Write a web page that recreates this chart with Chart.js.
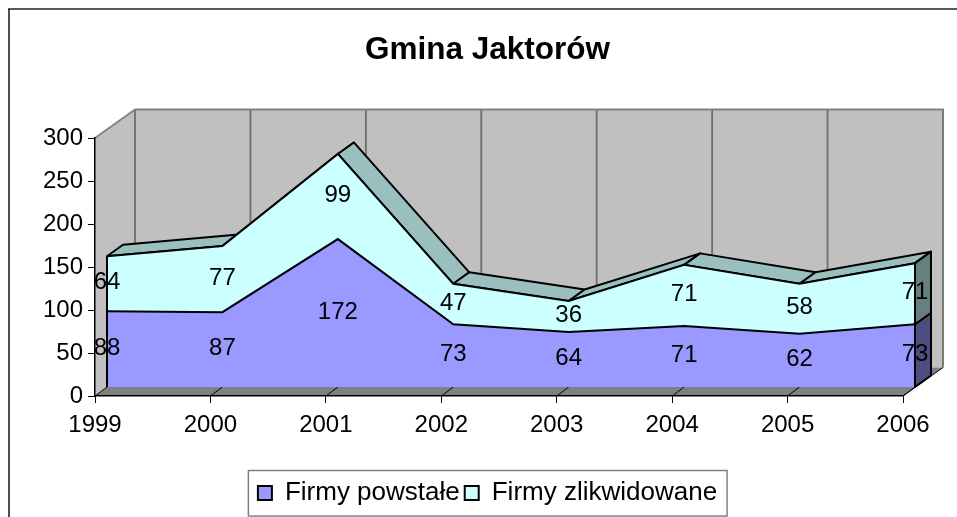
<!DOCTYPE html>
<html><head><meta charset="utf-8">
<style>html,body{margin:0;padding:0;background:#fff}canvas{display:block}</style>
<script src="https://cdn.jsdelivr.net/npm/chart.js@4"></script>
</head><body><canvas id="c" width="957" height="517"></canvas>
<script>
const categories = ['1999','2000','2001','2002','2003','2004','2005','2006'];
const firmyPowstale = [88,87,172,73,64,71,62,73];
const firmyZlikwidowane = [64,77,99,47,36,71,58,71];
const chartTitle = 'Gmina Jaktorów';
const seriesNames = ['Firmy powstałe','Firmy zlikwidowane'];
const FONT = '"Liberation Sans", Arial, sans-serif';

const WALL = {dx:40, dy:-28.5};
const FRONT = {dx:12, dy:-9};
const SLICE = {dx:16, dy:-11.5};

function poly(ctx, pts, fill, stroke, lw){
  ctx.beginPath();
  pts.forEach((p,i)=> i?ctx.lineTo(p[0],p[1]):ctx.moveTo(p[0],p[1]));
  ctx.closePath();
  if(fill){ctx.fillStyle=fill;ctx.fill();}
  if(stroke){ctx.strokeStyle=stroke;ctx.lineWidth=lw;ctx.lineJoin='round';ctx.stroke();}
}
function seg(ctx,a,b,color,lw){
  ctx.beginPath();ctx.moveTo(a[0],a[1]);ctx.lineTo(b[0],b[1]);
  ctx.strokeStyle=color;ctx.lineWidth=lw;ctx.stroke();
}
const scene = {
  id:'scene',
  afterLayout(chart){
    // widen the y axis drawing box so its labels are not clipped
    chart.scales.y.left = 20;
  },
  beforeDraw(chart){
    const {ctx,scales:{x,y}} = chart;
    const xs = categories.map((c,i)=>x.getPixelForValue(i));
    const L=xs[0], R=xs[xs.length-1], T=y.getPixelForValue(300), B=y.getPixelForValue(0);
    const d=WALL;
    ctx.save();
    seg(ctx,[9,9],[9,517],'#222',1.6);
    seg(ctx,[8,9],[957,9],'#222',1.6);
    poly(ctx,[[L+d.dx,T+d.dy],[R+d.dx,T+d.dy],[R+d.dx,B+d.dy],[L+d.dx,B+d.dy]],'#C0C0C0');
    poly(ctx,[[L,T],[L+d.dx,T+d.dy],[L+d.dx,B+d.dy],[L,B]],'#C0C0C0');
    poly(ctx,[[L,B],[L+d.dx,B+d.dy],[R+d.dx,B+d.dy],[R,B]],'#808080');
    xs.forEach(px=> seg(ctx,[px+d.dx,T+d.dy],[px+d.dx,B+d.dy],'#6E6E6E',1.8));
    seg(ctx,[L+d.dx,T+d.dy],[R+d.dx+1,T+d.dy],'#808080',2);
    seg(ctx,[L,T],[L+d.dx,T+d.dy],'#808080',1.8);
    xs.forEach(px=> seg(ctx,[px,B],[px+FRONT.dx,B+FRONT.dy],'#000',1));
    seg(ctx,[R,B],[R+d.dx,B+d.dy],'#000',1);
    ctx.restore();
  },
  beforeDatasetsDraw(chart){
    const {ctx,scales:{y}} = chart;
    const lower = chart.getDatasetMeta(0).data, upper = chart.getDatasetMeta(1).data;
    const base = y.getPixelForValue(0), s=SLICE;
    ctx.save();
    ctx.translate(FRONT.dx,FRONT.dy);
    for(let i=0;i<upper.length-1;i++){
      const a=upper[i],b=upper[i+1];
      poly(ctx,[[a.x,a.y],[a.x+s.dx,a.y+s.dy],[b.x+s.dx,b.y+s.dy],[b.x,b.y]],'#99BFBF','#000',2);
    }
    const n=upper.length-1, u=upper[n], l=lower[n];
    poly(ctx,[[l.x,l.y],[l.x+s.dx,l.y+s.dy],[l.x+s.dx,base+s.dy],[l.x,base]],'#4D4D80','#000',2);
    poly(ctx,[[u.x,u.y],[u.x+s.dx,u.y+s.dy],[u.x+s.dx,l.y+s.dy],[l.x,l.y]],'#668080','#000',2);
  },
  afterDatasetsDraw(chart){
    const {ctx,scales:{y}} = chart;
    const lower = chart.getDatasetMeta(0).data, upper = chart.getDatasetMeta(1).data;
    const base = y.getPixelForValue(0), n=upper.length-1;
    seg(ctx,[upper[0].x,upper[0].y],[upper[0].x,base],'#000',2);
    seg(ctx,[upper[n].x,upper[n].y],[upper[n].x,base],'#000',2);
    ctx.fillStyle='#000';ctx.font='24px '+FONT;ctx.textAlign='center';ctx.textBaseline='middle';
    firmyPowstale.forEach((v,i)=>{
      ctx.fillText(String(v),lower[i].x,(lower[i].y+base)/2-1);
    });
    firmyZlikwidowane.forEach((v,i)=>{
      ctx.fillText(String(v),upper[i].x,(upper[i].y+lower[i].y)/2-1);
    });
    ctx.restore();
  },
  afterDraw(chart){
    const {ctx} = chart, boxes = chart.legend.legendHitBoxes;
    const l = Math.min(...boxes.map(b=>b.left)), r = Math.max(...boxes.map(b=>b.left+b.width));
    const t = boxes[0].top, h = boxes[0].height;
    ctx.save();ctx.strokeStyle='#808080';ctx.lineWidth=1.5;
    ctx.strokeRect(l-9.5, t+h/2-22.5, r-l+19.5, 45.5);
    ctx.restore();
  }
};
new Chart(document.getElementById('c'),{
  type:'line',
  data:{labels:categories,datasets:[
    {label:seriesNames[0],data:firmyPowstale,backgroundColor:'#9999FF',borderColor:'#000',borderWidth:2,fill:'origin',clip:false,pointRadius:0,tension:0},
    {label:seriesNames[1],data:firmyZlikwidowane,backgroundColor:'#CCFFFF',borderColor:'#000',borderWidth:2,fill:'-1',clip:false,pointRadius:0,tension:0}
  ]},
  plugins:[scene],
  options:{
    responsive:false,animation:false,devicePixelRatio:1,
    layout:{padding:{left:72,right:54,top:0,bottom:1}},
    plugins:{
      title:{display:true,text:chartTitle,color:'#000',font:{family:FONT,size:31.5,weight:'bold'},padding:{top:31,bottom:69.2}},
      legend:{display:true,position:'bottom',labels:{color:'#000',font:{family:FONT,size:26},boxWidth:14,boxHeight:14,padding:5}},
      tooltip:{enabled:false}
    },
    scales:{
      x:{type:'category',offset:false,afterFit(s){s.height=79;},
        grid:{drawOnChartArea:false,tickLength:7,color:'#000',lineWidth:1},border:{color:'#000',width:1.5},
        ticks:{color:'#000',font:{family:FONT,size:24},padding:8,maxRotation:0,autoSkip:false}},
      y:{stacked:true,min:0,max:300,afterFit(s){s.width=23;},
        grid:{drawOnChartArea:false,tickLength:7,color:'#000',lineWidth:1},border:{color:'#000',width:1.5},
        ticks:{stepSize:50,color:'#000',font:{family:FONT,size:24},padding:5}}
    }
  }
});
</script></body></html>
